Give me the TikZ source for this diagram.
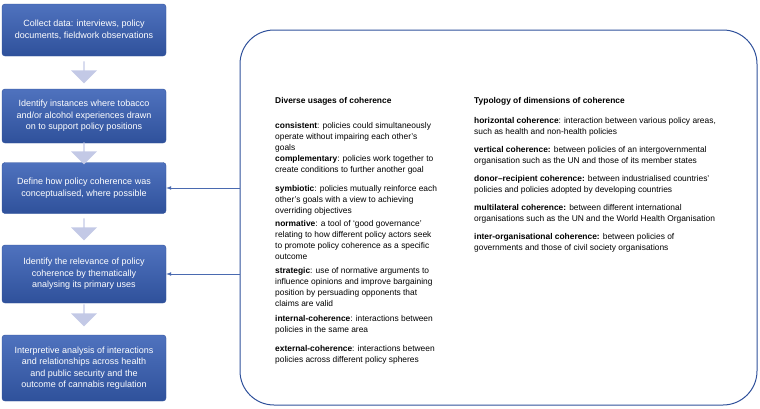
\documentclass[tikz,border=0pt]{standalone}
\usepackage{fontspec}
\setmainfont{Liberation Sans}
\usetikzlibrary{positioning,shapes.arrows}
\definecolor{stepblue}{HTML}{4F72BE}
\definecolor{stepdark}{HTML}{2F519B}
\definecolor{arrowlav}{HTML}{C3C9E6}
\definecolor{linkblue}{HTML}{4A6AB0}
\tikzstyle{stepbox} = [draw=stepdark, rounded corners=3pt, top color=stepblue, bottom color=stepdark,
  text=white, align=center, minimum width=164pt, font=\fontsize{9}{11.5}\selectfont]
\tikzstyle{downarrow} = [single arrow, fill=arrowlav, draw=none, shape border rotate=270,
  minimum height=22pt, minimum width=26pt, single arrow head extend=4pt, inner sep=0pt]
\tikzstyle{item} = [anchor=north west, inner sep=0pt, font=\fontsize{8.4}{11}\selectfont, align=left]
\tikzstyle{connector} = [draw=linkblue, line width=0.7pt]

\begin{document}
\begin{tikzpicture}[x=1pt,y=-1pt]
\useasboundingbox (0,0) rectangle (760,408);
% steps on the left
\node (s1) [stepbox, minimum height=52pt] at (84,30) {Collect data: interviews, policy\\documents, fieldwork observations};
\node (s2) [stepbox, minimum height=54pt] at (84,116) {Identify instances where tobacco\\and/or alcohol experiences drawn\\on to support policy positions};
\node (s3) [stepbox, minimum height=51pt] at (84,188) {Define how policy coherence was\\conceptualised, where possible};
\node (s4) [stepbox, minimum height=58pt] at (84,274) {Identify the relevance of policy\\coherence by thematically\\analysing its primary uses};
\node (s5) [stepbox, minimum height=66pt] at (84,368) {Interpretive analysis of interactions\\and relationships across health\\and public security and the\\outcome of cannabis regulation};
\node (a1) [downarrow] at (84,72) {};
\node (a2) [downarrow] at (84,153) {};
\node (a3) [downarrow] at (84,229) {};
\node (a4) [downarrow] at (84,315) {};
% big frame
\node (frame) [draw=stepdark, line width=1pt, rounded corners=34pt, minimum width=517pt, minimum height=375pt] at (498.5,217.5) {};
\coordinate (f1) at (frame.west |- s3.east);
\coordinate (f2) at (frame.west |- s4.east);
\draw [connector, -latex] (f1) -- (s3.east);
\draw [connector, -latex] (f2) -- (s4.east);
% left column
\node (h1) [item, font=\fontsize{8.4}{11}\selectfont\bfseries] at (275,97) {Diverse usages of coherence};
\node (c1) [item] at (275,122) {\textbf{consistent}: policies could simultaneously\\operate without impairing each other’s\\goals};
\node (c2) [item] at (275,155) {\textbf{complementary}: policies work together to\\create conditions to further another goal};
\node (c3) [item] at (275,185) {\textbf{symbiotic}: policies mutually reinforce each\\other’s goals with a view to achieving\\overriding objectives};
\node (c4) [item] at (275,220) {\textbf{normative}: a tool of ‘good governance’\\relating to how different policy actors seek\\to promote policy coherence as a specific\\outcome};
\node (c5) [item] at (275,267) {\textbf{strategic}: use of normative arguments to\\influence opinions and improve bargaining\\position by persuading opponents that\\claims are valid};
\node (c6) [item] at (275,315) {\textbf{internal-coherence}: interactions between\\policies in the same area};
\node (c7) [item] at (275,345) {\textbf{external-coherence}: interactions between\\policies across different policy spheres};
% right column
\node (h2) [item, font=\fontsize{8.4}{11}\selectfont\bfseries] at (474,97) {Typology of dimensions of coherence};
\node (d1) [item] at (474,117) {\textbf{horizontal coherence}: interaction between various policy areas,\\such as health and non-health policies};
\node (d2) [item] at (474,146) {\textbf{vertical coherence:} between policies of an intergovernmental\\organisation such as the UN and those of its member states};
\node (d3) [item] at (474,175) {\textbf{donor–recipient coherence:} between industrialised countries’\\policies and policies adopted by developing countries};
\node (d4) [item] at (474,204) {\textbf{multilateral coherence:} between different international\\organisations such as the UN and the World Health Organisation};
\node (d5) [item] at (474,233) {\textbf{inter-organisational coherence:} between policies of\\governments and those of civil society organisations};
\end{tikzpicture}
\end{document}
